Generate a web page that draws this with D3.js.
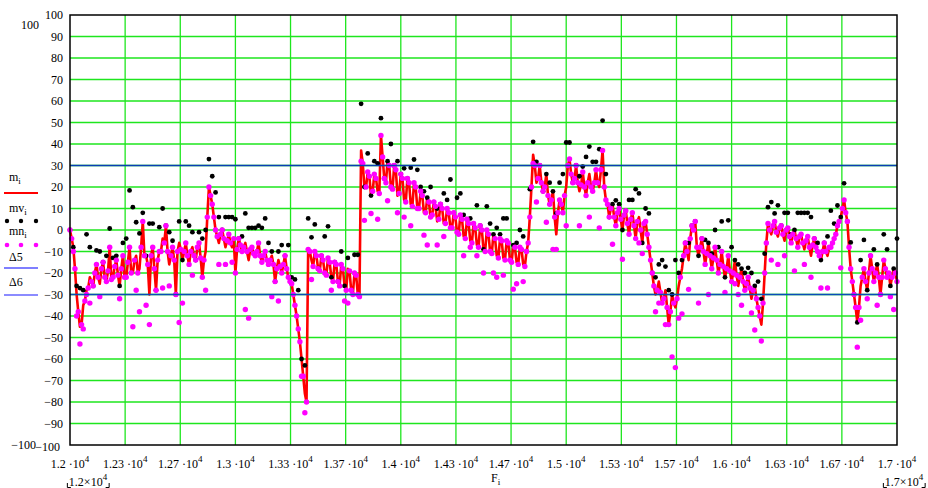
<!DOCTYPE html>
<html><head><meta charset="utf-8">
<script src="https://cdn.jsdelivr.net/npm/d3@7"></script>
<style>
body{margin:0;background:#fff}
svg{display:block}
text{font-family:"Liberation Serif","Times New Roman",serif;fill:#000}
</style>
</head><body><svg id="c" width="928" height="488"></svg>
<script>
// ---- data ----
// samples every 20 Hz from 12000 Hz, plus intermediate samples at +10 Hz
const fStart = 12000, fStep = 20, fHalf = 10;
const m = [
 0, -8, -30, -45, -35, -28, -22, -26, -16, -25,
 -15, -24, -8, -22, -14, -26, -12, -22, -8, -20,
 -12, -18, 4, -12, -30, -8, -28, -10, -4, 2,
 -16, -8, -30, -6, -14, -6, -16, -8, -14, -6,
 -22, -10, 20, 12, 0, -6, 0, -8, -2, -8,
 -20, -4, -10, -6, -14, -8, -12, -6, -15, -10,
 -16, -12, -24, -14, -20, -12, -22, -25, -35, -46,
 -60, -76, -9, -14, -10, -18, -12, -20, -13, -22,
 -15, -24, -16, -26, -18, -28, -20, -30, 37, 20,
 27, 16, 26, 18, 44, 24, 32, 20, 30, 16,
 26, 14, 24, 12, 22, 10, 18, 8, 15, 6,
 13, 4, 12, 3, 10, 1, 8, -1, 7, -3,
 5, -5, 3, -7, 2, -9, 0, -10, -2, -12,
 -4, -13, -5, -14, -7, -15, -8, -16, -10, 6,
 35, 22, 30, 18, 26, 12, 18, -2, 14, 8,
 20, 33, 22, 30, 18, 27, 16, 26, 18, 28,
 20, 37, 14, 6, 12, 2, 10, 0, 9, -2,
 8, -4, 6, -6, 4, -8, -20, -30, -24, -34,
 -28, -44, -30, -36, -26, -18, -6, -14, 2, 4,
 -12, -4, -16, -6, -18, -8, -20, -10, -22, -12,
 -24, -14, -26, -18, -28, -22, -32, -26, -36, -44,
 -20, 3, -2, 4, -3, 2, -5, 1, -6, 0,
 -8, -2, -9, -3, -12, -4, -10, -14, -6, -12,
 -8, -4, 2, 6, 14, 4, -18, -30, -43, -26,
 -18, -28, -12, -24, -16, -30, -14, -22, -26, -18, -24
];
// intermediate samples (F = 12010 + 20*i): m and mn coincide there
const mid = [
 -4, -18, -38, -44, -33, -27, -24, -20, -22, -18,
 -22, -19, -23, -17, -21, -18, -22, -15, -20, -14,
 -20, -8, -12, -16, -12, -18, -14, -10, -6, -10,
 -12, -14, -10, -9, -10, -12, -10, -12, -8, -13,
 -14, 6, 16, 6, -3, -2, -4, -5, -6, -4,
 -9, -7, -8, -10, -9, -11, -10, -12, -12, -14,
 -14, -16, -18, -17, -16, -18, -24, -30, -40, -52,
 -68, -80, -10, -17, -12, -19, -14, -21, -15, -24,
 -16, -26, -18, -28, -19, -30, -21, -31, 31, 20,
 25, 18, 24, 17, 34, 22, 30, 19, 28, 17,
 24, 13, 22, 11, 20, 10, 16, 8, 13, 7,
 11, 5, 10, 3, 8, 1, 6, -2, 5, -4,
 3, -6, 1, -8, 0, -10, -2, -11, -4, -13,
 -5, -14, -6, -15, -8, -16, -9, -17, -6, 20,
 30, 24, 22, 20, 16, 14, 6, 8, 12, 16,
 30, 26, 24, 22, 21, 20, 22, 20, 22, 22,
 28, 20, 12, 10, 6, 8, 5, 7, 3, 5,
 2, 4, 0, 3, -2, -14, -26, -28, -29, -32,
 -36, -38, -34, -32, -22, -12, -10, -4, 0, -8,
 -8, -10, -11, -12, -13, -14, -16, -17, -18, -19,
 -20, -21, -22, -24, -25, -27, -28, -32, -40, -34,
 -6, 0, 2, -1, 1, -2, 0, -3, -2, -4,
 -3, -6, -5, -8, -7, -8, -12, -10, -10, -8,
 -6, -2, 4, 10, 8, -8, -24, -36, -36, -22,
 -24, -20, -18, -20, -22, -22, -18, -20, -22, -20
];
const mv = [
 0, -8, -26, -27, -28, -2, -8, -26, -9.5, -10,
 -15, -12, 0.7, -13, -12, -26, -6, -4, 18.4, 10.6,
 3.6, -1.6, 8, -12, 3, 3, -28, 1.3, 10, 2,
 -1, -5, -30, 4, -14, 4, 2, -1, -14, -1,
 -4, 0, 33, 25, 17.5, 6, 0, 6, 6, 6,
 5, -4, -3, 7.7, 1, 1, 1, 2, 1, 5.4,
 -6, -10, -24, -10, -7, -12, -7, -22, -23, -28,
 -60, -63, 5.4, -3.4, 2.6, -18, -12, -3, 1.7, -22,
 -15, -24, -10, -26, -13, -28, -11.5, -11.5, 58.7, 20,
 35.6, 16, 32, 31, 52, 24, 32, 40, 30, 32,
 26, 28.7, 24, 29, 32.8, 28, 20, 18, 15, 20,
 13, 10, 12, 17, 14, 23.5, 8, 15, 17, 7,
 5, 5.4, 3, 11.5, 2, -9, 11, 3, -2, 1,
 -2, 5.4, 5.4, -14, -7, -6, 0, -3, -10, 19,
 41, 31.7, 30, 18, 26, 22, 18, 7.7, 22, 26,
 40.7, 40.7, 22, 30, 25, 29.5, 34, 38.8, 31.7, 31.7,
 37.6, 50.9, 26, 6, 12, 13.8, 12, 0, 9, 14,
 14, 19, 17, -6, 10, 7.7, -20, -22, -16, -14,
 -17, -28, -30, -14, -20, -14, -6, -6, 2, 4,
 -12, -4, -4.6, -6, -11, 0, -8, 4, -22, 4.5,
 -8, -14, -16, -18, -20, -17.6, -20, -26, -24, -32,
 -11, 10.6, 13, 7.7, 11.5, 2, 8, 8, -2, 0,
 8, 8, 8, 8, 6, -4, -6, -14, -6, -3,
 9, 3, 11.4, 6, 21.7, 4, -5.8, -30, -43, -14,
 -4.6, -28, -12, -9, -16, -30, -2, -9, -26, -18, -4
];
const mn = [
 0, -10, -40, -53, -46, -30, -34, -26, -16, -31,
 -15, -24, -8, -22, -14, -32, -12, -22, -8, -45,
 -28, -38, 4, -35, -44, -8, -28, -10, -27, 2,
 -26, -8, -30, -43, -34, -6, -16, -21, -14, -6,
 -22, -28, 20, 12, 0, -16, 0, -16, -2, -15,
 -20, -4, -10, -37, -41, -8, -12, -6, -15, -10,
 -16, -31, -24, -33, -20, -12, -22, -25, -35, -46,
 -68, -85, -9, -23, -10, -18, -12, -20, -13, -28,
 -15, -24, -16, -33, -34, -28, -20, -30, 32, 4.5,
 27, 7.7, 26, 5, 44, 24, 13.6, 20, 30, 8,
 26, 6, 24, 2, 22, 10, 18, -2.4, -7, 6,
 13, -7, 12, -3, 10, 1, 8, -1, 7, -12,
 5, -8, 3, -12, 2, -20, 0, -10, -20, -22,
 -4, -21, -5, -14, -27.5, -25, -8, -24, -10, 6,
 31, 13, 30, 18, 3.6, 12, -9, -9, 14, 8,
 2, 33, 22, 30, 2, 27, 16, 6, 18, 28,
 1, 37, 14, 6, -6.6, 2, 10, -13.6, 9, -2,
 8, -4, -6, -11, 4, -8, -20, -38, -34, -34,
 -44, -44, -59, -64, -41, -39, -6, -27.6, 2, 4,
 -34, -4, -16, -30, -18, -8, -20, -10, -29, -12,
 -24, -25, -30, -35, -28, -22, -38.6, -46.5, -36, -51.6,
 -20, 3, -14, 4, -16, 2, -12, 1, -6, -19,
 -8, -2, -16, -3, -22, -4, -10, -27, -6, -27,
 -8, -4, 2, -17.6, 14, 4, -18, -30, -54.5, -42,
 -18, -32, -12, -24, -35, -30, -14, -22, -31, -37, -24
];
const delta5 = 30, delta6 = -30;
const xDomain = [12000, 17000];
const yDomain = [-100, 100];
const xTickLabels = ["1.2","1.23","1.27","1.3","1.33","1.37","1.4","1.43","1.47","1.5","1.53","1.57","1.6","1.63","1.67","1.7"];
const yTickValues = [-100,-90,-80,-70,-60,-50,-40,-30,-20,-10,0,10,20,30,40,50,60,70,80,90,100];

// ---- drawing ----
const svg = d3.select("#c");
const L = 70, R = 897, T = 15, B = 445;
const x = d3.scaleLinear().domain(xDomain).range([L, R]);
const y = d3.scaleLinear().domain(yDomain).range([B, T]);
const F = m.map((_, i) => fStart + i * fStep);
const FM = mid.map((_, i) => fStart + fHalf + i * fStep);
const xTicks = xTickLabels.map((_, k) => xDomain[0] + k * (xDomain[1] - xDomain[0]) / (xTickLabels.length - 1));

// merged red trace
const redPts = [];
m.forEach((v, i) => { redPts.push([F[i], v]); if (i < mid.length) redPts.push([FM[i], mid[i]]); });
const mnPts = mn.map((v, i) => [F[i], v]).concat(mid.map((v, i) => [FM[i], v]));

svg.append("rect").attr("width", 928).attr("height", 488).attr("fill", "#fff");

// grid
const grid = svg.append("g").attr("stroke", "#1ee61e").attr("stroke-width", 1.3);
xTicks.slice(1, -1).forEach(t => grid.append("line").attr("x1", x(t)).attr("x2", x(t)).attr("y1", T).attr("y2", B));
yTickValues.slice(1, -1).forEach(t => grid.append("line").attr("x1", L).attr("x2", R).attr("y1", y(t)).attr("y2", y(t)));

// red line
svg.append("path").datum(redPts)
  .attr("fill", "none").attr("stroke", "#ff0000").attr("stroke-width", 2.6)
  .attr("stroke-linejoin", "round")
  .attr("d", d3.line().x(d => x(d[0])).y(d => y(d[1])));

// black dots
svg.append("g").selectAll("circle").data(mv).join("circle")
  .attr("cx", (d, i) => x(F[i])).attr("cy", d => y(d)).attr("r", 2.4).attr("fill", "#000");
// magenta dots
svg.append("g").selectAll("circle").data(mnPts).join("circle")
  .attr("cx", d => x(d[0])).attr("cy", d => y(d[1])).attr("r", 2.7).attr("fill", "#ff00ff");

// delta lines
svg.append("line").attr("x1", L).attr("x2", R).attr("y1", y(delta5)).attr("y2", y(delta5))
  .attr("stroke", "#0a3cb4").attr("stroke-width", 1.4);
svg.append("line").attr("x1", L).attr("x2", R).attr("y1", y(delta6)).attr("y2", y(delta6))
  .attr("stroke", "#0a4cb8").attr("stroke-width", 1.4);

// border
svg.append("rect").attr("x", L).attr("y", T).attr("width", R - L).attr("height", B - T)
  .attr("fill", "none").attr("stroke", "#000").attr("stroke-width", 1.5);

// y tick labels
svg.append("g").selectAll("text").data(yTickValues).join("text")
  .attr("x", d => d === -100 ? 60 : 63).attr("y", d => d === -100 ? y(d) + 2 : y(d)).attr("dy", "0.35em")
  .attr("text-anchor", "end").attr("font-size", 12)
  .text(d => d < 0 ? "\u2212" + Math.abs(d) : String(d));
svg.append("text").attr("x", 39).attr("y", 25).attr("dy", "0.35em").attr("text-anchor", "end")
  .attr("font-size", 12).text(String(yDomain[1]));
svg.append("text").attr("x", 36).attr("y", 445).attr("dy", "0.35em").attr("text-anchor", "end")
  .attr("font-size", 12).text("\u2212" + Math.abs(yDomain[0]));

// x tick labels
xTicks.forEach((t, k) => {
  const tx = svg.append("text").attr("x", x(t)).attr("y", 468).attr("text-anchor", "middle").attr("font-size", 12);
  tx.append("tspan").text(xTickLabels[k] + " \u00b710");
  tx.append("tspan").attr("dy", -6).attr("font-size", 9).text("4");
});

// x axis title
const ft = svg.append("text").attr("x", 491).attr("y", 482).attr("font-size", 12);
ft.append("tspan").text("F");
ft.append("tspan").attr("dy", 3).attr("font-size", 9).text("i");

// limit labels
function limitLabel(cx, mant) {
  const t = svg.append("text").attr("x", cx).attr("y", 486).attr("text-anchor", "middle").attr("font-size", 12);
  t.append("tspan").text(mant + "\u00d710");
  t.append("tspan").attr("dy", -6).attr("font-size", 9).text("4");
  const bb = t.node().getBBox();
  const g = svg.append("g").attr("stroke", "#000").attr("stroke-width", 1).attr("fill", "none");
  g.append("path").attr("d", `M${bb.x - 1.5},${483} V${487.5} H${bb.x + 2}`);
  g.append("path").attr("d", `M${bb.x + bb.width + 1.5},${483} V${487.5} H${bb.x + bb.width - 2}`);
}
limitLabel(88, "1.2");
limitLabel(904, "1.7");

// legend
function legText(yy, main, sub) {
  const t = svg.append("text").attr("x", 9).attr("y", yy).attr("font-size", 12);
  t.append("tspan").text(main);
  if (sub) t.append("tspan").attr("dy", 3).attr("font-size", 9).text(sub);
}
legText(181, "m", "i");
svg.append("line").attr("x1", 4).attr("x2", 38).attr("y1", 193).attr("y2", 193).attr("stroke", "#ff0000").attr("stroke-width", 2);
legText(212, "mv", "i");
[7, 21, 36].forEach(cx => svg.append("circle").attr("cx", cx).attr("cy", 221).attr("r", 2.2).attr("fill", "#000"));
legText(235, "mn", "i");
[7, 21, 36].forEach(cx => svg.append("circle").attr("cx", cx).attr("cy", 245).attr("r", 2.3).attr("fill", "#ff00ff"));
legText(261, "\u03945", null);
svg.append("line").attr("x1", 4).attr("x2", 38).attr("y1", 268).attr("y2", 268).attr("stroke", "#0000ff").attr("stroke-width", 1.2);
legText(286, "\u03946", null);
svg.append("line").attr("x1", 4).attr("x2", 38).attr("y1", 295).attr("y2", 295).attr("stroke", "#6464ff").attr("stroke-width", 1.5);
</script>
</body></html>
